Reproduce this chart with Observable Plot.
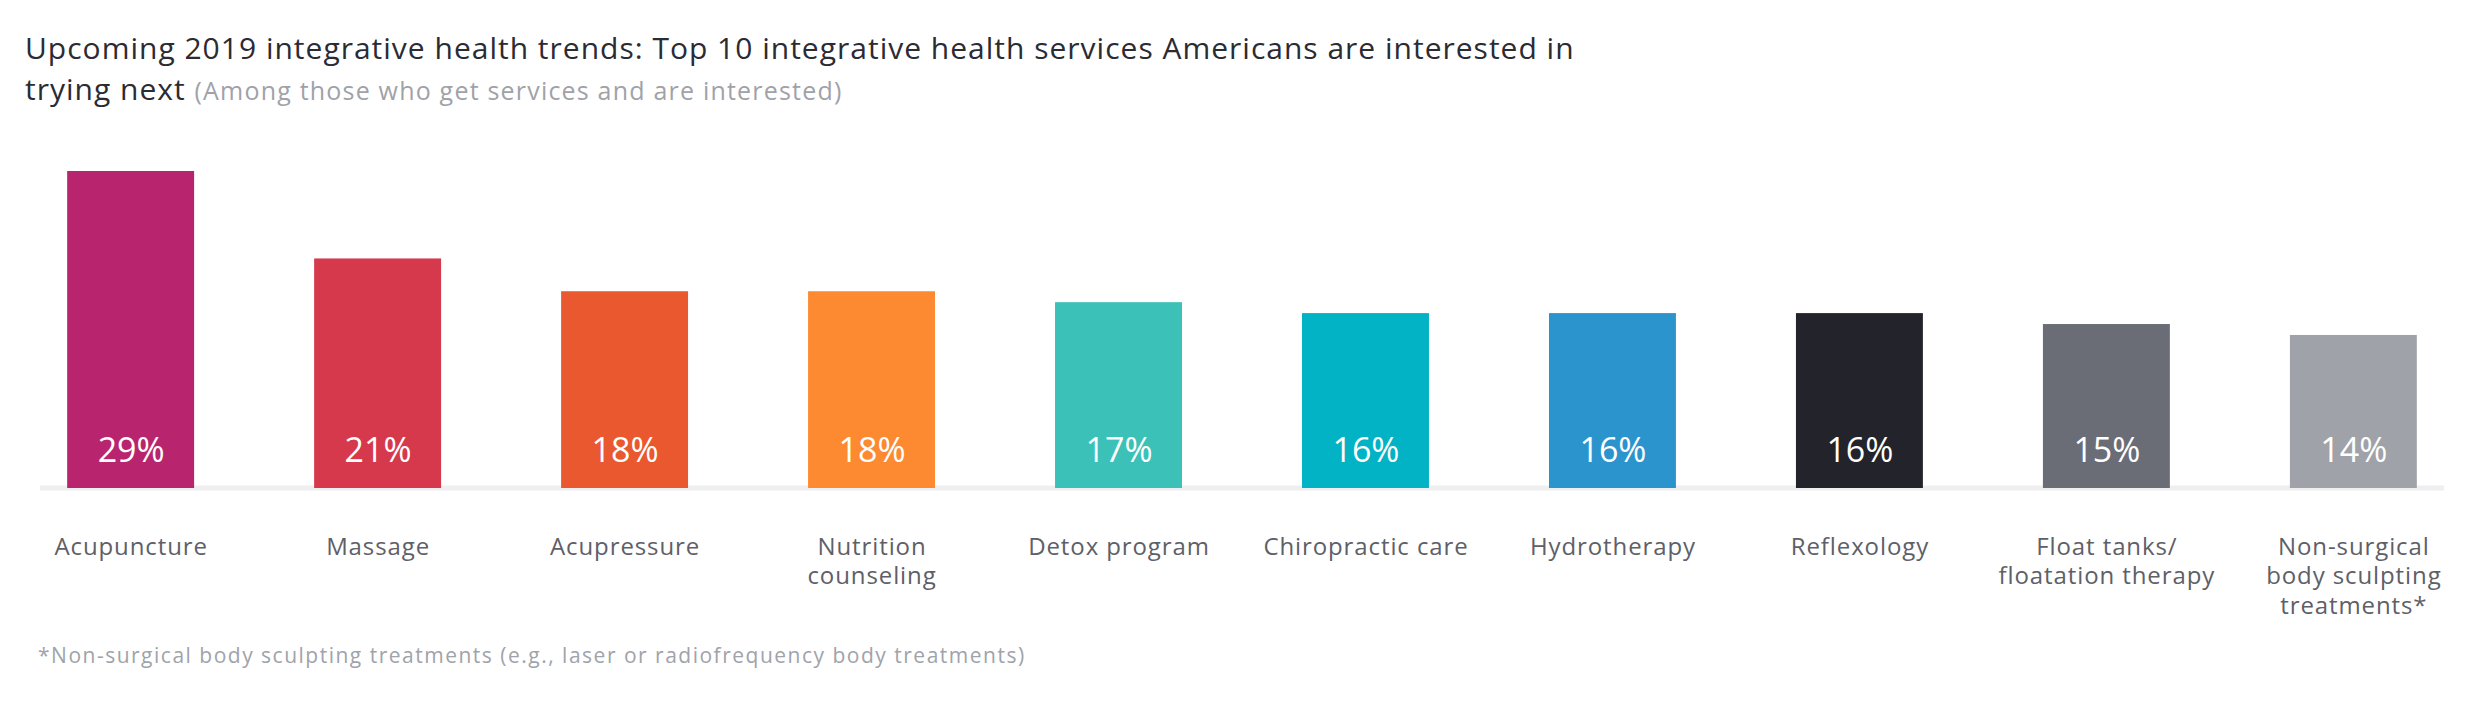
<!DOCTYPE html>
<html>
<head>
<meta charset="utf-8">
<script src="https://cdn.jsdelivr.net/npm/d3@7"></script>
<script src="https://cdn.jsdelivr.net/npm/@observablehq/plot@0.6"></script>
<style>
  html, body { margin: 0; padding: 0; background: #fff; }
  body { width: 2470px; height: 712px; overflow: hidden; font-family: "Open Sans", Lato, sans-serif; }
  #title { height: 80px; padding: 27px 0 0 25px; font-size: 30px; line-height: 41px; color: #2b2b33; white-space: nowrap; letter-spacing: 1.0px; }
  #title .sub { font-size: 25px; line-height: 0; color: #9fa2a9; letter-spacing: 1.2px; }
  #chart svg { display: block; }
  #chart svg g[aria-label="x-axis tick label"] { letter-spacing: 0.9px; }
  #note { padding-left: 38px; margin-top: -3px; font-size: 21px; line-height: 22px; color: #a0a3aa; letter-spacing: 1.5px; white-space: nowrap; }
</style>
</head>
<body>
<div id="title">Upcoming 2019 integrative health trends: Top 10 integrative health services Americans are interested in<br>trying next <span class="sub">(Among those who get services and are interested)</span></div>
<div id="chart"></div>
<div id="note">*Non-surgical body sculpting treatments (e.g., laser or radiofrequency body treatments)</div>
<script>
const categories = [
  "Acupuncture",
  "Massage",
  "Acupressure",
  "Nutrition\ncounseling",
  "Detox program",
  "Chiropractic care",
  "Hydrotherapy",
  "Reflexology",
  "Float tanks/\nfloatation therapy",
  "Non-surgical\nbody sculpting\ntreatments*"
];
const values = [29, 21, 18, 18, 17, 16, 16, 16, 15, 14];
const colors = ["#b8256e", "#d6394c", "#e9582e", "#fd8a30", "#3bc1b8", "#02b2c5", "#2b94cd", "#23232b", "#6a6d76", "#9fa2a8"];

const data = categories.map((c, i) => ({category: c, value: values[i], color: colors[i]}));

const chart = Plot.plot({
  width: 2470,
  height: 540,
  marginLeft: 40,
  marginRight: 26,
  marginTop: 64,
  marginBottom: 159,
  style: {fontFamily: "'Open Sans', Lato, sans-serif", background: "#fff"},
  x: {domain: categories, padding: 0.486, paddingOuter: 0.11, round: false, label: null},
  y: {domain: [0, d3.max(values)], axis: null},
  color: {type: "identity"},
  marks: [
    Plot.ruleY([0], {stroke: "#efeff1", strokeWidth: 5, dy: -0.5}),
    Plot.barY(data, {x: "category", y: "value", fill: "color"}),
    Plot.text(data, {x: "category", y: 0, text: d => d.value + "%", fill: "#fff", fontSize: 34, lineAnchor: "bottom", dy: -27}),
    Plot.axisX({tickSize: 0, tickPadding: 45, fontSize: 24, lineHeight: 1.24, fill: "#5e6068", label: null})
  ]
});
document.getElementById("chart").appendChild(chart);
</script>
</body>
</html>
